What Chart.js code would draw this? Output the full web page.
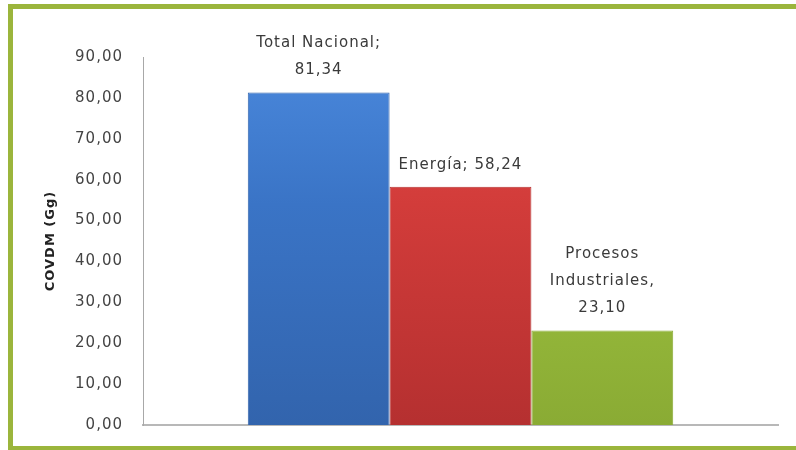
<!DOCTYPE html>
<html>
<head>
<meta charset="utf-8">
<script src="https://cdn.jsdelivr.net/npm/chart.js@4"></script>
<style>
  html, body { margin: 0; padding: 0; background: #fff; overflow: hidden; }
  #chart { display: block; }
</style>
</head>
<body>
<canvas id="chart" width="796" height="450"></canvas>
<script>
/* ================== DATA ================== */
const seriesNames = ['Total Nacional', 'Energía', 'Procesos Industriales'];
const seriesValues = [81.34, 58.24, 23.10];
const labelLines = [
  ['Total Nacional;', '81,34'],
  ['Energía; 58,24'],
  ['Procesos', 'Industriales,', '23,10']
];
const yTicks = [0, 10, 20, 30, 40, 50, 60, 70, 80, 90];
const yTitle = 'COVDM (Gg)';

/* ================== COLORS ================== */
const frameColor = '#9bb53c';
const barColors = [
  ['#4a88dc', '#3a74c6', '#3264ad'],
  ['#e24a47', '#d23c3a', '#b53030'],
  ['#b0d24e', '#9dc13f', '#8aab34']
];

function barGradient(ctx, i) {
  const area = ctx.chart.chartArea;
  if (!area) return barColors[i][1];
  const g = ctx.chart.ctx.createLinearGradient(0, area.top, 0, area.bottom);
  g.addColorStop(0, barColors[i][0]);
  g.addColorStop(0.4, barColors[i][1]);
  g.addColorStop(1, barColors[i][2]);
  return g;
}

/* ================== FRAME + TEXT SPACING ================== */
const framePlugin = {
  id: 'frame',
  beforeDraw(chart) {
    const c = chart.ctx;
    c.save();
    c.fillStyle = '#fff';
    c.fillRect(0, 0, chart.width, chart.height);
    c.fillStyle = frameColor;
    c.fillRect(8, 4, chart.width, 5);    // top
    c.fillRect(8, 4, 5, 446);            // left
    c.fillRect(8, 446, chart.width, 4);  // bottom
    c.restore();
    c.letterSpacing = '1px';
  }
};

/* ================== DATA LABELS ================== */
const labelPlugin = {
  id: 'barLabels',
  afterDatasetsDraw(chart) {
    const c = chart.ctx;
    c.save();
    c.font = '15px "DejaVu Sans"';
    c.letterSpacing = '1px';
    c.fillStyle = '#3a3a3a';
    c.textAlign = 'center';
    c.textBaseline = 'middle';
    chart.data.datasets.forEach((ds, i) => {
      const bar = chart.getDatasetMeta(i).data[0];
      const lines = labelLines[i];
      lines.forEach((line, k) => {
        const y = bar.y - 22 - (lines.length - 1 - k) * 27;
        c.fillText(line, bar.x, y);
      });
    });
    c.restore();
  }
};

new Chart(document.getElementById('chart'), {
  type: 'bar',
  data: {
    labels: [''],
    datasets: seriesNames.map((name, i) => ({
      label: name,
      data: [seriesValues[i]],
      backgroundColor: ctx => barGradient(ctx, i),
      borderColor: barColors[i][2],
      borderWidth: 1,
      categoryPercentage: 0.67,
      barPercentage: 1.0
    }))
  },
  options: {
    responsive: false,
    animation: false,
    layout: { padding: { top: 57, right: 18, bottom: 25, left: 0 } },
    plugins: {
      legend: { display: false },
      tooltip: { enabled: false }
    },
    scales: {
      x: {
        afterFit(scale) { scale.height = 0; },
        grid: { display: false },
        ticks: { display: false },
        border: { display: true, color: '#b8b8b8', width: 2 }
      },
      y: {
        min: 0,
        max: 90,
        afterFit(scale) {
          scale.width = 143;
          scale.paddingTop = 0;
          scale.paddingBottom = 0;
        },
        afterBuildTicks(scale) { scale.ticks = yTicks.map(v => ({ value: v })); },
        grid: { display: false, drawTicks: false },
        border: { display: true, color: '#a8a8a8', width: 1 },
        ticks: {
          padding: 20,
          color: '#444',
          font: { family: 'DejaVu Sans', size: 15 },
          callback: v => v.toFixed(2).replace('.', ',')
        },
        title: {
          display: true,
          text: yTitle,
          color: '#222',
          font: { family: 'DejaVu Sans', size: 13, weight: 'bold' },
          padding: { top: 43, bottom: 0 }
        }
      }
    }
  },
  plugins: [framePlugin, labelPlugin]
});
</script>
</body>
</html>
